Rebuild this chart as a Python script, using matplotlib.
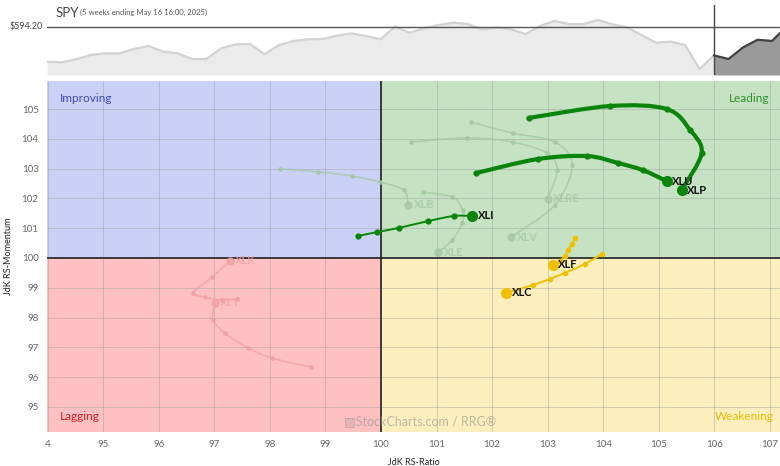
"""Relative Rotation Graph (sector ETFs vs SPY) with the SPY price strip on top."""

import matplotlib.pyplot as plt
from matplotlib.patches import PathPatch
from matplotlib.path import Path

plt.rcParams["font.family"] = ["Lato", "DejaVu Sans"]

# SPY weekly closes shown in the top strip (last 6 = highlighted 5 weeks)
spy_close = [520.8, 519.4, 525.7, 534.8, 538.3, 538.3, 547.4, 553.7, 541.8, 538.3,
             526.4, 526.4, 548.8, 557.2, 557.9, 536.2, 555.8, 564.2, 567.7, 568.4,
             575.4, 580.3, 574.7, 567.7, 594.3, 581.7, 590.8, 597.8, 602.7, 599.9,
             588.7, 592.2, 588.7, 578.9, 595.7, 606.2, 599.9, 599.9, 608.3, 599.2,
             592.9, 576.8, 560.7, 562.8, 555.8, 505.3, 533.9, 526.4, 550.6, 566.8,
             564.3, 594.2]
window_start = 46
last_price = 594.20

# RRG tails: (RS-Ratio, RS-Momentum), oldest -> newest
xlp_ratio = [102.66, 104.12, 105.14, 105.56, 105.77, 105.41]
xlp_mom = [104.70, 105.10, 105.00, 104.30, 103.52, 102.28]
xlu_ratio = [101.71, 102.82, 103.71, 104.26, 104.71, 105.14]
xlu_mom = [102.85, 103.32, 103.42, 103.19, 102.95, 102.58]
xli_ratio = [99.59, 99.93, 100.32, 100.85, 101.31, 101.64]
xli_mom = [100.74, 100.87, 101.01, 101.24, 101.41, 101.41]
xlf_ratio = [103.49, 103.44, 103.36, 103.31, 103.22, 103.09]
xlf_mom = [100.67, 100.47, 100.27, 100.07, 99.90, 99.77]
xlc_ratio = [103.97, 103.67, 103.31, 103.04, 102.73, 102.25]
xlc_mom = [100.13, 99.80, 99.50, 99.30, 99.09, 98.83]
# faded (de-emphasised) tails
xlb_ratio = [98.18, 98.87, 99.48, 99.98, 100.41, 100.49]
xlb_mom = [102.99, 102.89, 102.75, 102.55, 102.28, 101.78]
xle_ratio = [100.76, 101.28, 101.47, 101.46, 101.28, 101.03]
xle_mom = [102.21, 102.05, 101.61, 101.17, 100.60, 100.20]
xlre_ratio = [100.54, 101.55, 102.37, 102.99, 103.17, 103.00]
xlre_mom = [103.89, 104.03, 103.89, 103.52, 102.95, 101.98]
xlv_ratio = [101.62, 102.37, 103.13, 103.44, 103.13, 102.34]
xlv_mom = [104.56, 104.19, 103.89, 103.12, 101.78, 100.70]
xly_ratio = [98.74, 98.04, 97.61, 97.19, 96.98, 97.01]
xly_mom = [96.34, 96.64, 96.98, 97.48, 97.92, 98.49]
xlk_ratio = [97.41, 97.14, 96.83, 96.62, 96.96, 97.28]
xlk_mom = [98.62, 98.59, 98.69, 98.83, 99.36, 99.90]

x_ticks = list(range(94, 108))
x_ticklabels = ["4"] + [str(v) for v in range(95, 108)]
y_ticks = list(range(95, 106))

W, H = 780, 466


def frac(x0, y0, x1, y1):
    return [x0 / W, 1 - y1 / H, (x1 - x0) / W, (y1 - y0) / H]


def smooth_path(xs, ys):
    # Catmull-Rom through the points, handed to matplotlib as cubic Bezier segments
    pts = list(zip(xs, ys))
    n = len(pts)
    verts, codes = [pts[0]], [Path.MOVETO]
    for i in range(n - 1):
        p0 = pts[max(i - 1, 0)]
        p1, p2 = pts[i], pts[i + 1]
        p3 = pts[min(i + 2, n - 1)]
        c1 = (p1[0] + (p2[0] - p0[0]) / 6, p1[1] + (p2[1] - p0[1]) / 6)
        c2 = (p2[0] - (p3[0] - p1[0]) / 6, p2[1] - (p3[1] - p1[1]) / 6)
        verts += [c1, c2, p2]
        codes += [Path.CURVE4] * 3
    return Path(verts, codes)


def tail(ax, xs, ys, color, lw, ms, head_ms, label, label_color, alpha=1.0):
    ax.add_patch(PathPatch(smooth_path(xs, ys), fill=False, edgecolor=color, lw=lw,
                           alpha=alpha, capstyle="round", joinstyle="round", zorder=4))
    ax.plot(xs[:-1], ys[:-1], "o", color=color, ms=ms, alpha=alpha, zorder=5)
    ax.plot(xs[-1], ys[-1], "o", color=color, ms=head_ms, alpha=alpha, zorder=6)
    ax.annotate(label, (xs[-1], ys[-1]), xytext=(4, 0), textcoords="offset points",
                va="center", ha="left", fontsize=8, fontweight="bold",
                color=label_color, alpha=alpha, zorder=7)


def main():
    fig = plt.figure(figsize=(W / 100, H / 100), dpi=100)

    # --- SPY strip
    top = fig.add_axes(frac(47, 5, 780, 75))
    idx = list(range(len(spy_close)))
    base = 492.8
    top.fill_between(idx[:window_start + 1], spy_close[:window_start + 1], base,
                     color="#ebebeb", lw=0)
    top.plot(idx[:window_start + 1], spy_close[:window_start + 1], color="#d2d2d2", lw=1.6)
    top.fill_between(idx[window_start:], spy_close[window_start:], base, color="#9a9a9a", lw=0)
    top.plot(idx[window_start:], spy_close[window_start:], color="#404040", lw=1.6)
    top.axhline(last_price, color="#555555", lw=1.0)
    top.axvline(window_start, color="#444444", lw=1.0)
    top.set_xlim(0, 50.55)
    top.set_ylim(base, 639.8)
    top.axis("off")
    fig.text(56 / W, 1 - 13 / H, "SPY", fontsize=9.5, color="#444444", va="center")
    fig.text(80 / W, 1 - 12.5 / H, "(5 weeks ending May 16 16:00, 2025)", fontsize=5.5,
             color="#555555", va="center")
    fig.text(43 / W, 1 - 27 / H, f"${last_price:.2f}", fontsize=6.5, color="#444444",
             va="center", ha="right")

    # --- RRG
    ax = fig.add_axes(frac(47, 81, 780, 432))
    x0, x1, y0, y1 = 93.99, 107.18, 94.16, 105.94
    ax.set_xlim(x0, x1)
    ax.set_ylim(y0, y1)
    mid = (100 - y0) / (y1 - y0)
    ax.axvspan(x0, 100, ymin=mid, ymax=1, color="#cbd1f6", lw=0, zorder=0)
    ax.axvspan(100, x1, ymin=mid, ymax=1, color="#c5e3c3", lw=0, zorder=0)
    ax.axvspan(x0, 100, ymin=0, ymax=mid, color="#ffc0c2", lw=0, zorder=0)
    ax.axvspan(100, x1, ymin=0, ymax=mid, color="#fdefbd", lw=0, zorder=0)
    for v in x_ticks:
        ax.axvline(v, color="#9a9a9a", lw=0.5, alpha=0.6, zorder=1)
    for v in y_ticks:
        ax.axhline(v, color="#9a9a9a", lw=0.5, alpha=0.6, zorder=1)
    ax.axvline(100, color="#222222", lw=1.2, zorder=2)
    ax.axhline(100, color="#222222", lw=1.2, zorder=2)

    ax.set_xticks(x_ticks)
    ax.set_xticklabels(x_ticklabels)
    ax.set_yticks(y_ticks)
    ax.tick_params(length=0, labelsize=7, labelcolor="#666666", pad=6)
    for s in ax.spines.values():
        s.set_visible(False)
    ax.set_xlabel("JdK RS-Ratio", fontsize=6.5, color="#222222", labelpad=6)
    ax.set_ylabel("JdK RS-Momentum", fontsize=6.5, color="#222222", labelpad=6)

    ax.text(0.018, 0.95, "Improving", transform=ax.transAxes, fontsize=8.5, color="#3a48b4", va="center")
    ax.text(0.985, 0.95, "Leading", transform=ax.transAxes, fontsize=8.5, color="#2f8f2f",
            va="center", ha="right")
    ax.text(0.018, 0.045, "Lagging", transform=ax.transAxes, fontsize=8.5, color="#d6212b", va="center")
    ax.text(0.992, 0.045, "Weakening", transform=ax.transAxes, fontsize=8.5, color="#e6bd00",
            va="center", ha="right")
    ax.text(0.405, 0.03, "\u25a7StockCharts.com / RRG\u00ae", transform=ax.transAxes, fontsize=9,
            color="#8a8a8a", alpha=0.55, va="center")

    faded_g = "#a3c6a3"
    faded_r = "#f0a0a2"
    tail(ax, xlb_ratio, xlb_mom, faded_g, 1.2, 2.5, 5, "XLB", faded_g, 0.75)
    tail(ax, xle_ratio, xle_mom, faded_g, 1.2, 2.5, 5, "XLE", faded_g, 0.75)
    tail(ax, xlre_ratio, xlre_mom, faded_g, 1.2, 2.5, 5, "XLRE", faded_g, 0.75)
    tail(ax, xlv_ratio, xlv_mom, faded_g, 1.2, 2.5, 5, "XLV", faded_g, 0.75)
    tail(ax, xly_ratio, xly_mom, faded_r, 1.2, 2.5, 5, "XLY", faded_r, 0.75)
    tail(ax, xlk_ratio, xlk_mom, faded_r, 1.2, 2.5, 5, "XLK", faded_r, 0.75)

    green = "#0a840a"
    gold = "#f0c000"
    tail(ax, xli_ratio, xli_mom, green, 1.4, 3.5, 7, "XLI", "#111111")
    tail(ax, xlu_ratio, xlu_mom, green, 3.0, 3.5, 7, "XLU", "#111111")
    tail(ax, xlp_ratio, xlp_mom, green, 3.0, 3.5, 7, "XLP", "#111111")
    tail(ax, xlf_ratio, xlf_mom, gold, 1.4, 3.0, 7, "XLF", "#111111")
    tail(ax, xlc_ratio, xlc_mom, gold, 1.4, 3.0, 7, "XLC", "#111111")

    fig.savefig("out.png", dpi=100)


if __name__ == "__main__":
    main()
